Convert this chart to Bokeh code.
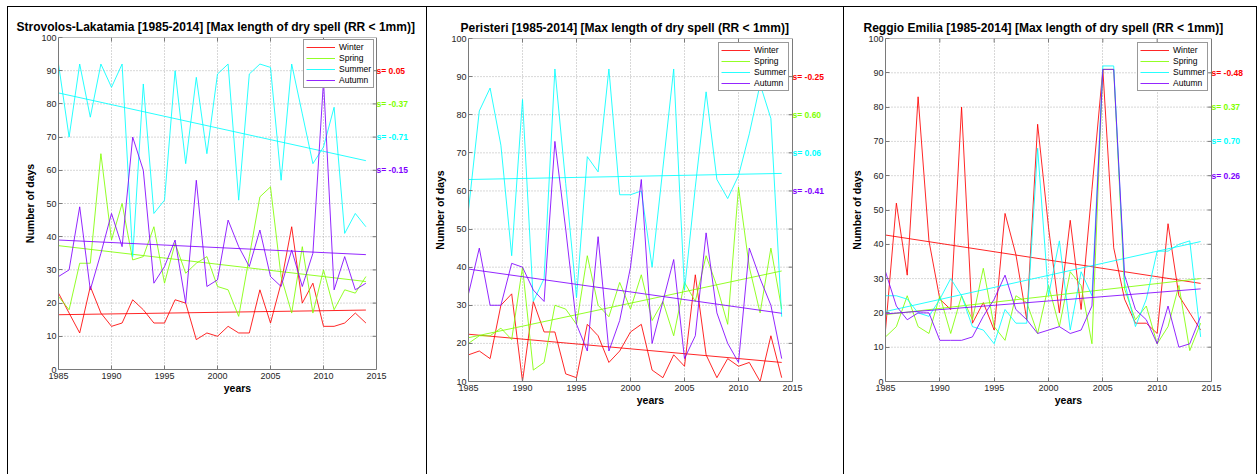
from bokeh.plotting import figure
from bokeh.models import Legend, LegendItem, Range1d, FixedTicker, Spacer, ColumnDataSource
from bokeh.core.properties import value
from bokeh.layouts import row, column
from bokeh.embed import file_html
from bokeh.resources import INLINE

years = list(range(1985, 2015))
seasons = ["Winter", "Spring", "Summer", "Autumn"]
season_colors = ["#ff0000", "#80ff00", "#00ffff", "#8000ff"]
slope_label_y = [90, 80, 70, 60]
x_ticks = [1985, 1990, 1995, 2000, 2005, 2010, 2015]
period = "[1985-2014]"
index_name = "[Max length of dry spell (RR < 1mm)]"

# ---- Strovolos-Lakatamia ----
strovolos_winter = [23, 17, 11, 25, 17, 13, 14, 21, 18, 14, 14, 21, 20, 9, 11, 10, 13, 11, 11, 24, 14, 26, 43, 20, 26, 13, 13, 14, 17, 14]
strovolos_spring = [22, 18, 32, 32, 65, 39, 50, 33, 34, 43, 26, 38, 29, 32, 34, 25, 24, 16, 34, 52, 55, 28, 17, 37, 17, 30, 18, 24, 23, 28]
strovolos_summer = [92, 70, 92, 76, 92, 85, 92, 34, 86, 47, 51, 90, 62, 88, 65, 89, 92, 51, 89, 92, 91, 57, 92, 77, 62, 67, 79, 41, 47, 43]
strovolos_autumn = [28, 30, 49, 24, 35, 47, 37, 70, 60, 26, 31, 39, 20, 57, 25, 27, 45, 37, 31, 42, 28, 25, 36, 25, 35, 87, 24, 34, 24, 26]
strovolos_trend_start = [16.5, 37.3, 83.3, 39.0]
strovolos_trend_end = [17.9, 26.5, 62.9, 34.6]
strovolos_slopes = ["s= 0.05", "s= -0.37", "s= -0.71", "s= -0.15"]
strovolos_yticks = [0, 10, 20, 30, 40, 50, 60, 70, 80, 90, 100]

# ---- Peristeri ----
peristeri_winter = [17, 18, 16, 30, 33, 10, 31, 23, 23, 12, 11, 25, 22, 15, 18, 23, 25, 13, 11, 17, 14, 38, 17, 11, 16, 14, 15, 10, 22, 11]
peristeri_spring = [20, 22, 22, 24, 21, 40, 13, 15, 30, 29, 25, 43, 30, 27, 36, 29, 38, 26, 31, 22, 36, 31, 43, 35, 25, 61, 40, 28, 45, 29]
peristeri_summer = [55, 81, 87, 72, 43, 84, 31, 37, 92, 62, 32, 69, 65, 92, 59, 59, 60, 40, 66, 92, 34, 61, 86, 63, 58, 64, 75, 88, 79, 27]
peristeri_autumn = [33, 45, 30, 30, 41, 40, 34, 31, 73, 50, 25, 18, 48, 18, 26, 40, 63, 20, 31, 42, 16, 22, 49, 28, 20, 15, 45, 37, 30, 16]
peristeri_trend_start = [22.4, 21.5, 63.0, 39.5]
peristeri_trend_end = [15.0, 39.0, 64.6, 27.9]
peristeri_slopes = ["s= -0.25", "s= 0.60", "s= 0.06", "s= -0.41"]
peristeri_yticks = [10, 20, 30, 40, 50, 60, 70, 80, 90, 100]

# ---- Reggio Emilia ----
reggio_winter = [15, 52, 31, 83, 41, 24, 21, 80, 17, 23, 15, 49, 37, 18, 75, 45, 20, 47, 21, 56, 91, 39, 24, 17, 17, 14, 46, 25, 20, 15]
reggio_spring = [13, 16, 25, 16, 14, 25, 14, 25, 18, 33, 16, 12, 25, 23, 14, 28, 16, 32, 28, 11, 91, 91, 27, 18, 22, 11, 16, 28, 9, 17]
reggio_summer = [25, 25, 24, 20, 19, 24, 30, 25, 16, 15, 11, 21, 17, 17, 68, 25, 41, 15, 32, 25, 92, 92, 29, 16, 24, 38, 38, 40, 41, 13]
reggio_autumn = [32, 22, 18, 20, 20, 12, 12, 12, 13, 19, 24, 31, 21, 18, 14, 15, 16, 14, 15, 22, 91, 91, 31, 21, 18, 11, 22, 10, 11, 19]
reggio_trend_start = [42.7, 19.5, 20.4, 19.7]
reggio_trend_end = [28.6, 30.0, 40.8, 27.0]
reggio_slopes = ["s= -0.48", "s= 0.37", "s= 0.70", "s= 0.26"]
reggio_yticks = [0, 10, 20, 30, 40, 50, 60, 70, 80, 90, 100]

FONT = "Liberation Sans"
AXIS_COLOR = "#7a7a7a"
GRID_COLOR = "#b0b0b0"
HEIGHT = 468
TICK_PX = 4


def make_panel(station, series, t_start, t_end, slopes, yticks, width,
               mb_left, frame_px, extra_px, mb_top, mb_bottom,
               title_offset, legend_loc, styles):
    x_span = x_ticks[-1] - x_ticks[0]
    y_span = yticks[-1] - yticks[0]
    frame_h = HEIGHT - mb_top - mb_bottom
    x_end = x_ticks[-1] + extra_px * x_span / frame_px
    mb_right = width - mb_left - frame_px - extra_px
    p = figure(width=width, height=HEIGHT,
               x_range=Range1d(x_ticks[0], x_end),
               y_range=Range1d(yticks[0], yticks[-1]),
               output_backend="svg", toolbar_location=None,
               min_border_left=mb_left, min_border_right=mb_right,
               min_border_top=mb_top, min_border_bottom=mb_bottom,
               background_fill_color="white", border_fill_color="white")
    p.styles = styles
    p.title.text = f"{station} {period} {index_name}"
    p.title.align = "left"
    p.title.offset = title_offset
    p.title.text_font = FONT
    p.title.text_font_size = "12px"
    p.title.text_font_style = "bold"
    p.title.text_color = "black"
    p.title.standoff = 8

    p.outline_line_color = None

    for ax in (p.xaxis[0], p.yaxis[0]):
        ax.axis_line_color = AXIS_COLOR
        ax.major_tick_line_color = AXIS_COLOR
        ax.minor_tick_line_color = None
        ax.major_tick_in = TICK_PX
        ax.major_tick_out = 0
        ax.major_label_text_font = FONT
        ax.major_label_text_font_size = "9px"
        ax.major_label_text_color = "#262626"
        ax.axis_label_text_font = FONT
        ax.axis_label_text_font_size = "10.5px"
        ax.axis_label_text_font_style = "bold"
        ax.axis_label_text_color = "black"
    p.xaxis[0].ticker = FixedTicker(ticks=x_ticks)
    p.xaxis[0].bounds = (x_ticks[0], x_ticks[-1])
    p.yaxis[0].ticker = FixedTicker(ticks=yticks)
    p.xaxis[0].axis_label = "years"
    p.yaxis[0].axis_label = "Number of days"
    p.xaxis[0].major_label_standoff = 3
    p.yaxis[0].major_label_standoff = 2
    p.xaxis[0].axis_label_standoff = 0
    p.yaxis[0].axis_label_standoff = 2

    # vertical dotted grid (inner ticks only)
    p.xgrid[0].ticker = FixedTicker(ticks=x_ticks[1:-1])
    p.xgrid[0].grid_line_color = GRID_COLOR
    p.xgrid[0].grid_line_dash = "1 2"
    p.ygrid[0].visible = False
    # horizontal dotted grid restricted to the axes box
    inner_y = yticks[1:-1]
    inner_x = x_ticks[1:-1]
    p.segment(x0=[x_ticks[0]] * len(inner_y), y0=inner_y,
              x1=[x_ticks[-1]] * len(inner_y), y1=inner_y,
              line_color=GRID_COLOR, line_dash="1 2", line_width=1, level="underlay")
    # top and right edges of the axes box
    p.segment(x0=[x_ticks[0], x_ticks[-1]], y0=[yticks[-1], yticks[0]],
              x1=[x_ticks[-1], x_ticks[-1]], y1=[yticks[-1], yticks[-1]],
              line_color=AXIS_COLOR, line_width=1)
    # inward ticks on the right and top edges
    dx = TICK_PX * x_span / frame_px
    dy = TICK_PX * y_span / frame_h
    p.segment(x0=[x_ticks[-1] - dx] * len(inner_y), y0=inner_y,
              x1=[x_ticks[-1]] * len(inner_y), y1=inner_y,
              line_color=AXIS_COLOR, line_width=1)
    p.segment(x0=inner_x, y0=[yticks[-1] - dy] * len(inner_x),
              x1=inner_x, y1=[yticks[-1]] * len(inner_x),
              line_color=AXIS_COLOR, line_width=1)

    items = []
    for name, col, vals, a, b in zip(seasons, season_colors, series, t_start, t_end):
        r = p.line(years, vals, line_color=col, line_width=1, line_alpha=0.85)
        p.line([years[0], years[-1]], [a, b], line_color=col, line_width=1, line_alpha=0.85)
        items.append(LegendItem(label=name, renderers=[r]))

    legend = Legend(items=items, location=legend_loc,
                    padding=2, spacing=1, label_height=10, glyph_height=10,
                    glyph_width=29, label_standoff=4,
                    label_text_font=FONT, label_text_font_size="8.5px",
                    label_text_color="black",
                    border_line_color="#333333", border_line_width=1,
                    background_fill_color="white", background_fill_alpha=1)
    p.add_layout(legend)

    src = ColumnDataSource(dict(x=[x_ticks[-1]] * len(slopes), y=slope_label_y,
                                text=slopes, color=season_colors))
    p.text(x="x", y="y", text="text", text_color="color", source=src,
           text_font=value(FONT), text_font_size=value("8.5px"),
           text_font_style="bold", text_baseline="middle", text_align="left")
    return p


base_style = {"border-left": "1px solid black", "border-top": "1px solid black",
              "box-sizing": "border-box"}
last_style = dict(base_style)
last_style["border-right"] = "1px solid black"

p1 = make_panel("Strovolos-Lakatamia",
                [strovolos_winter, strovolos_spring, strovolos_summer, strovolos_autumn],
                strovolos_trend_start, strovolos_trend_end, strovolos_slopes,
                strovolos_yticks, 419, 50, 318, 40, 30, 106, -42, (245, 281), base_style)
p2 = make_panel("Peristeri",
                [peristeri_winter, peristeri_spring, peristeri_summer, peristeri_autumn],
                peristeri_trend_start, peristeri_trend_end, peristeri_slopes,
                peristeri_yticks, 417, 41, 324, 40, 31, 94, -8, (250, 290), base_style)
p3 = make_panel("Reggio Emilia",
                [reggio_winter, reggio_spring, reggio_summer, reggio_autumn],
                reggio_trend_start, reggio_trend_end, reggio_slopes,
                reggio_yticks, 414, 41, 326, 40, 31, 94, -22, (252, 290), last_style)

layout = column(Spacer(height=6),
                row(Spacer(width=7), column(p1), column(p2), column(p3)))

with open("out.html", "w") as f:
    f.write(file_html(layout, INLINE))
